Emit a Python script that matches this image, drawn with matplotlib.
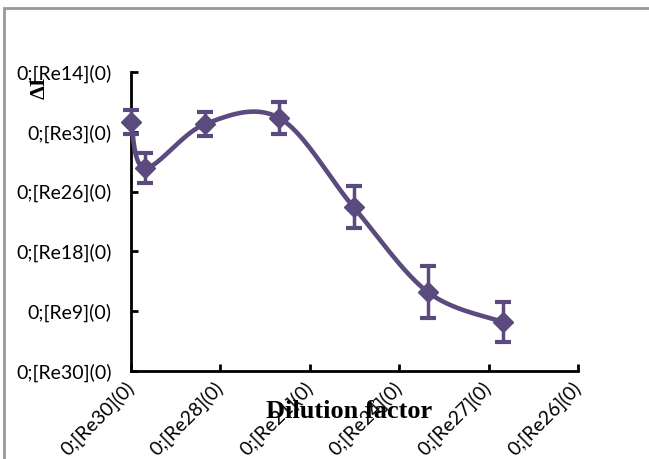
import matplotlib
matplotlib.use("Agg")
import matplotlib.pyplot as plt
from matplotlib.patches import Rectangle
import numpy as np

# measured response vs dilution step
x_vals = [0.0, 0.16, 0.83, 1.66, 2.49, 3.32, 4.16]
y_vals = [0.833, 0.679, 0.826, 0.846, 0.548, 0.264, 0.164]
y_err = [0.04, 0.05, 0.04, 0.053, 0.07, 0.088, 0.067]

x_ticks = [0, 1, 2, 3, 4, 5]
x_labels = ["0;[Re30](0)", "0;[Re28](0)", "0;[Re21](0)", "0;[Re24](0)", "0;[Re27](0)", "0;[Re26](0)"]
y_ticks = [0.0, 0.2, 0.4, 0.6, 0.8, 1.0]
y_labels = ["0;[Re30](0)", "0;[Re9](0)", "0;[Re18](0)", "0;[Re26](0)", "0;[Re3](0)", "0;[Re14](0)"]

LINE_COLOR = "#5b4a7d"
TICK_FONT = "Lato"


def smooth_curve(xs, ys, n=40):
    # Catmull-Rom style Bezier smoothing through every point
    pts = np.column_stack([xs, ys])
    out = []
    for i in range(len(pts) - 1):
        p0 = pts[i - 1] if i > 0 else pts[i]
        p1 = pts[i]
        p2 = pts[i + 1]
        p3 = pts[i + 2] if i + 2 < len(pts) else pts[i + 1]
        c1 = p1 + (p2 - p0) / 6.0
        c2 = p2 - (p3 - p1) / 6.0
        t = np.linspace(0, 1, n)[:, None]
        seg = ((1 - t) ** 3) * p1 + 3 * ((1 - t) ** 2) * t * c1 + 3 * (1 - t) * t ** 2 * c2 + t ** 3 * p2
        out.append(seg if i == 0 else seg[1:])
    out = np.vstack(out)
    return out[:, 0], out[:, 1]


fig = plt.figure(figsize=(6.49, 4.59), dpi=100)
ax = fig.add_axes([131 / 649, 1 - 371 / 459, 447 / 649, 299 / 459])

# chart frame
fig.patches.append(Rectangle((4 / 649, -0.1), 1.2, 1 - 8 / 459 + 0.1, transform=fig.transFigure,
                             fill=False, edgecolor="#999999", linewidth=2))

sx, sy = smooth_curve(x_vals, y_vals)
ax.plot(sx, sy, color=LINE_COLOR, linewidth=3.3, solid_capstyle="round", clip_on=False, zorder=3)
ax.errorbar(x_vals, y_vals, yerr=y_err, fmt="D", color=LINE_COLOR, markersize=10,
            elinewidth=2.5, capsize=6, capthick=3, clip_on=False, zorder=4)

ax.set_xlim(0, 5)
ax.set_ylim(0, 1)
ax.spines["top"].set_visible(False)
ax.spines["right"].set_visible(False)
for s in ("left", "bottom"):
    ax.spines[s].set_linewidth(2)

ax.set_xticks(x_ticks)
ax.set_xticklabels(x_labels, rotation=45, ha="right", va="center", rotation_mode="anchor",
                   fontfamily=TICK_FONT, fontsize=14)
ax.set_yticks(y_ticks)
ax.set_yticklabels(y_labels, fontfamily=TICK_FONT, fontsize=14)
ax.tick_params(direction="in", length=5, width=2)
ax.tick_params(axis="y", pad=14)
ax.tick_params(axis="x", pad=10)

fig.text(349 / 649, 1 - 412 / 459, "Dilution factor", ha="center", va="center",
         fontfamily="Liberation Serif", fontweight="bold", fontsize=19)
fig.text(40 / 649, 1 - 88 / 459, "ΔI", ha="center", va="center", rotation=90,
         fontfamily="Liberation Serif", fontweight="bold", fontsize=16)

fig.savefig("out.png", dpi=100)
